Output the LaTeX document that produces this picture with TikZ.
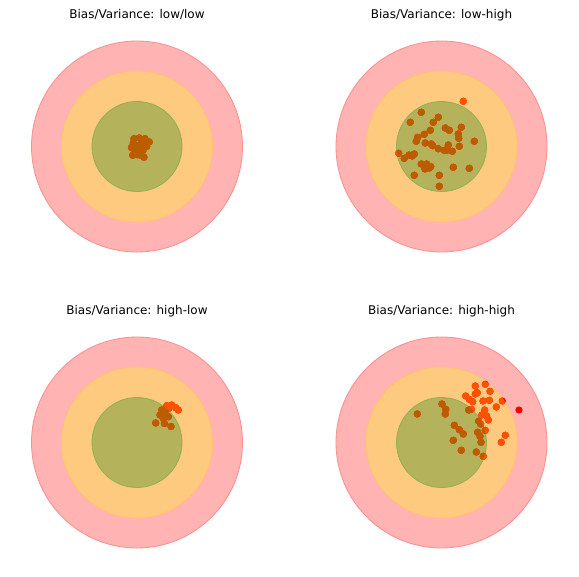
\documentclass[tikz,border=0pt]{standalone}
\usepackage{fontspec}
\setmainfont{DejaVu Sans}
\usepackage{xcolor}
\definecolor{ringpink}{RGB}{255,179,179}
\definecolor{ringpinkedge}{RGB}{255,140,140}
\definecolor{ringorange}{RGB}{254,202,128}
\definecolor{ringorangeedge}{RGB}{255,196,110}
\definecolor{bullgreen}{RGB}{180,178,90}
\definecolor{bullgreenedge}{RGB}{145,176,82}
\definecolor{hitred}{RGB}{255,0,0}
\definecolor{hitorange}{RGB}{255,82,0}
\definecolor{hitbrown}{RGB}{186,92,0}

% one target: name, centre, title, shots x/y
\newcommand{\drawtarget}[4]{%
  \coordinate (#1) at #2;
  \fill[ringpink,draw=ringpinkedge,line width=0.8pt] (#1) circle[radius=105.5pt];
  \fill[ringorange,draw=ringorangeedge,line width=0.8pt] (#1) circle[radius=75.5pt];
  \fill[bullgreen,draw=bullgreenedge,line width=0.8pt] (#1) circle[radius=45pt];
  \foreach \x/\y in {#4} \fill[hitred] (\x,\y) circle[radius=3.6pt];
  \begin{scope}
    \clip (#1) circle[radius=75.5pt];
    \foreach \x/\y in {#4} \fill[hitorange] (\x,\y) circle[radius=3.6pt];
  \end{scope}
  \begin{scope}
    \clip (#1) circle[radius=45pt];
    \foreach \x/\y in {#4} \fill[hitbrown] (\x,\y) circle[radius=3.6pt];
  \end{scope}
  \node[titletext] (#1-title) at ([yshift=128.2pt]#1) {#3};
}

\begin{document}
\begin{tikzpicture}[x=1pt,y=-1pt,titletext/.style={anchor=base,inner sep=0pt,font=\fontsize{12}{14}\selectfont}]
\useasboundingbox[fill=white] (0,0) rectangle (579,577);

\drawtarget{lowlow}{(137,146.5)}{Bias/Variance: low/low}{%
  134/138.7, 139.3/138, 145/138.7, 149.3/142, 133.3/143, 140/144.7,
  146.7/146.3, 134/149.7, 139.3/151.3, 137.3/154.7, 132.7/155.3,
  140.7/155.3, 144/157.3, 142/141, 136/146, 143/150.5, 131.5/147.5,
  146/142.5}

\drawtarget{lowhigh}{(441.5,146.5)}{Bias/Variance: low-high}{%
  463.3/101.3, 421.3/112.3, 410.3/122.3, 438.3/117.3, 433.3/122.3,
  430.3/130.3, 445.3/128, 449.3/130.3, 461.3/127.3, 424.3/134.3,
  417.7/137.3, 458.3/134, 458.7/138.3, 416.3/141.3, 425.3/143,
  431.3/144, 432.7/145.7, 474.3/141.3, 438.3/148.7, 448.3/145,
  459.3/146.3, 444.3/150.3, 446.7/150.3, 452.3/151.3, 398.7/153.3,
  404.3/158.3, 409/155, 412.3/156, 414.3/154, 421.3/164, 426.7/164,
  425/169, 429.3/168, 430.7/166.7, 414.3/175.3, 439.3/175.3,
  453.3/167.3, 469.3/168.3, 439.3/186.3}

\drawtarget{highlow}{(137,442.5)}{Bias/Variance: high-low}{%
  166.7/405.7, 171.7/405, 175.7/407.7, 178.3/410, 169/408.3,
  161.7/410, 160/415, 165/413.3, 168.3/416.7, 163.3/418.3,
  155.7/423, 164.5/423.5, 171/426.5}

\drawtarget{highhigh}{(441.5,442.5)}{Bias/Variance: high-high}{%
  475.3/386, 485.3/384.3, 490/391.3, 477.3/392.7, 475.3/394,
  465.7/396, 469.3/399.3, 472.7/401.7, 483/401, 489.3/400.3,
  502.3/401, 496.3/407, 519/410, 484.7/410, 481.7/415, 486.7/416,
  488.3/420, 468.7/410, 471.3/409.3, 505.3/435.3, 501.3/442.3,
  485.3/430.3, 417.3/414, 442/404, 445.7/409.3, 445.3/414,
  454.3/425.3, 459.3/429.7, 463.3/434, 453.3/440.3, 461.3/450.3,
  476.3/452, 483.3/456.3, 477.7/432.3, 480/436.3, 481/442.3,
  478.7/421.3, 480.7/424}
\end{tikzpicture}
\end{document}
